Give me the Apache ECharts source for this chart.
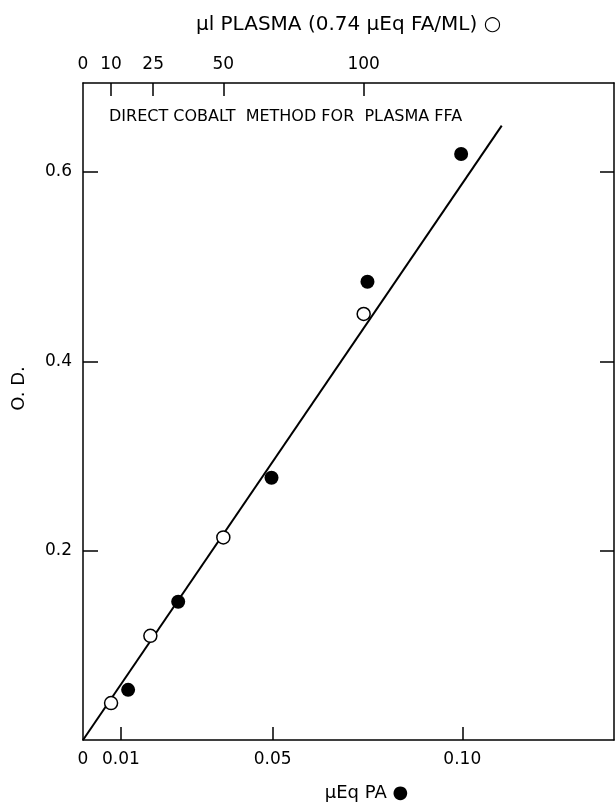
<!DOCTYPE html>
<html>
<head>
<meta charset="utf-8">
<title>Direct cobalt method for plasma FFA</title>
<script src="https://cdn.jsdelivr.net/npm/echarts@6/dist/echarts.min.js"></script>
<style>
    html, body { margin: 0; padding: 0; background: #fff; }
    #chart { width: 615px; height: 807px; }
</style>
</head>
<body>
<div id="chart"></div>
<script>
// palmitic acid standards, µEq PA (filled dots)
const paUEq = [0.0119, 0.0251, 0.0497, 0.075, 0.0997];
const paOD = [0.053, 0.146, 0.277, 0.484, 0.619];

// plasma samples, µl plasma (open dots)
const plasmaUl = [10, 24, 50, 100];
const plasmaOD = [0.039, 0.11, 0.214, 0.45];

// fitted line end points (µEq, O.D.)
const fitLine = [[0, 0], [0.1104, 0.649]];

const bottomTicks = [0.01, 0.05, 0.10];
const bottomLabels = [0, 0.01, 0.05, 0.10];
const topTicks = [10, 25, 50, 100];
const topLabels = [0, 10, 25, 50, 100];
const yTicks = [0.2, 0.4, 0.6];

const ueqPerUl = 0.00074; // 0.74 µEq FA / ml
const xMax = 0.14;
const yMax = 0.694;

const font = 'DejaVu Sans';
const ink = '#000';

const chart = echarts.init(document.getElementById('chart'), null, { renderer: 'canvas' });

// axis line stays on its own edge, not on the other axis's zero
const axisLine = { show: true, onZero: false, lineStyle: { color: ink, width: 1.5 } };

chart.setOption({
    backgroundColor: '#fff',
    animation: false,
    title: {
        text: 'DIRECT COBALT  METHOD FOR  PLASMA FFA',
        left: 104,
        top: 104,
        textStyle: { fontFamily: font, fontSize: 16, fontWeight: 'normal', color: ink }
    },
    grid: { left: 83, right: 1, top: 83, bottom: 64 },
    xAxis: [
        {
            type: 'value',
            position: 'bottom',
            min: 0,
            max: xMax,
            name: 'µEq PA ●',
            nameLocation: 'middle',
            nameGap: 44,
            nameTextStyle: { fontFamily: font, fontSize: 18, color: ink, padding: [0, 0, 0, 36] },
            axisLine: axisLine,
            axisTick: { inside: true, length: 13, customValues: bottomTicks, lineStyle: { color: ink, width: 1.5 } },
            axisLabel: {
                customValues: bottomLabels,
                margin: 11,
                fontFamily: font,
                fontSize: 17,
                color: ink,
                formatter: (v) => (v === 0 ? '0' : v.toFixed(2))
            },
            splitLine: { show: false }
        },
        {
            type: 'value',
            position: 'top',
            min: 0,
            max: xMax / ueqPerUl,
            name: 'µl PLASMA (0.74 µEq FA/ML) ○',
            nameLocation: 'middle',
            nameGap: 48,
            nameTextStyle: { fontFamily: font, fontSize: 20, color: ink },
            axisLine: axisLine,
            axisTick: { inside: true, length: 13, customValues: topTicks, lineStyle: { color: ink, width: 1.5 } },
            axisLabel: {
                customValues: topLabels,
                margin: 10,
                fontFamily: font,
                fontSize: 17,
                color: ink
            },
            splitLine: { show: false }
        }
    ],
    yAxis: [
        {
            type: 'value',
            position: 'left',
            min: 0,
            max: yMax,
            name: 'O. D.',
            nameLocation: 'middle',
            nameGap: 55,
            nameRotate: 90,
            nameTextStyle: { fontFamily: font, fontSize: 18, color: ink, padding: [0, 0, 0, 46] },
            axisLine: axisLine,
            axisTick: { inside: true, length: 15, customValues: yTicks, lineStyle: { color: ink, width: 1.5 } },
            axisLabel: {
                customValues: yTicks,
                margin: 11,
                fontFamily: font,
                fontSize: 17,
                color: ink,
                formatter: (v) => v.toFixed(1)
            },
            splitLine: { show: false }
        },
        {
            type: 'value',
            position: 'right',
            min: 0,
            max: yMax,
            axisLine: axisLine,
            axisTick: { inside: true, length: 14, customValues: yTicks, lineStyle: { color: ink, width: 1.5 } },
            axisLabel: { show: false },
            splitLine: { show: false }
        }
    ],
    series: [
        {
            type: 'line',
            xAxisIndex: 0,
            yAxisIndex: 0,
            data: fitLine,
            symbol: 'none',
            lineStyle: { color: ink, width: 2 },
            z: 2
        },
        {
            type: 'scatter',
            xAxisIndex: 0,
            yAxisIndex: 0,
            data: paUEq.map((x, i) => [x, paOD[i]]),
            symbol: 'circle',
            symbolSize: 14,
            itemStyle: { color: ink, opacity: 1 },
            z: 3
        },
        {
            type: 'scatter',
            xAxisIndex: 1,
            yAxisIndex: 0,
            data: plasmaUl.map((x, i) => [x, plasmaOD[i]]),
            symbol: 'circle',
            symbolSize: 13,
            itemStyle: { color: '#fff', borderColor: ink, borderWidth: 1.5, opacity: 1 },
            z: 4
        }
    ]
});
</script>
</body>
</html>
